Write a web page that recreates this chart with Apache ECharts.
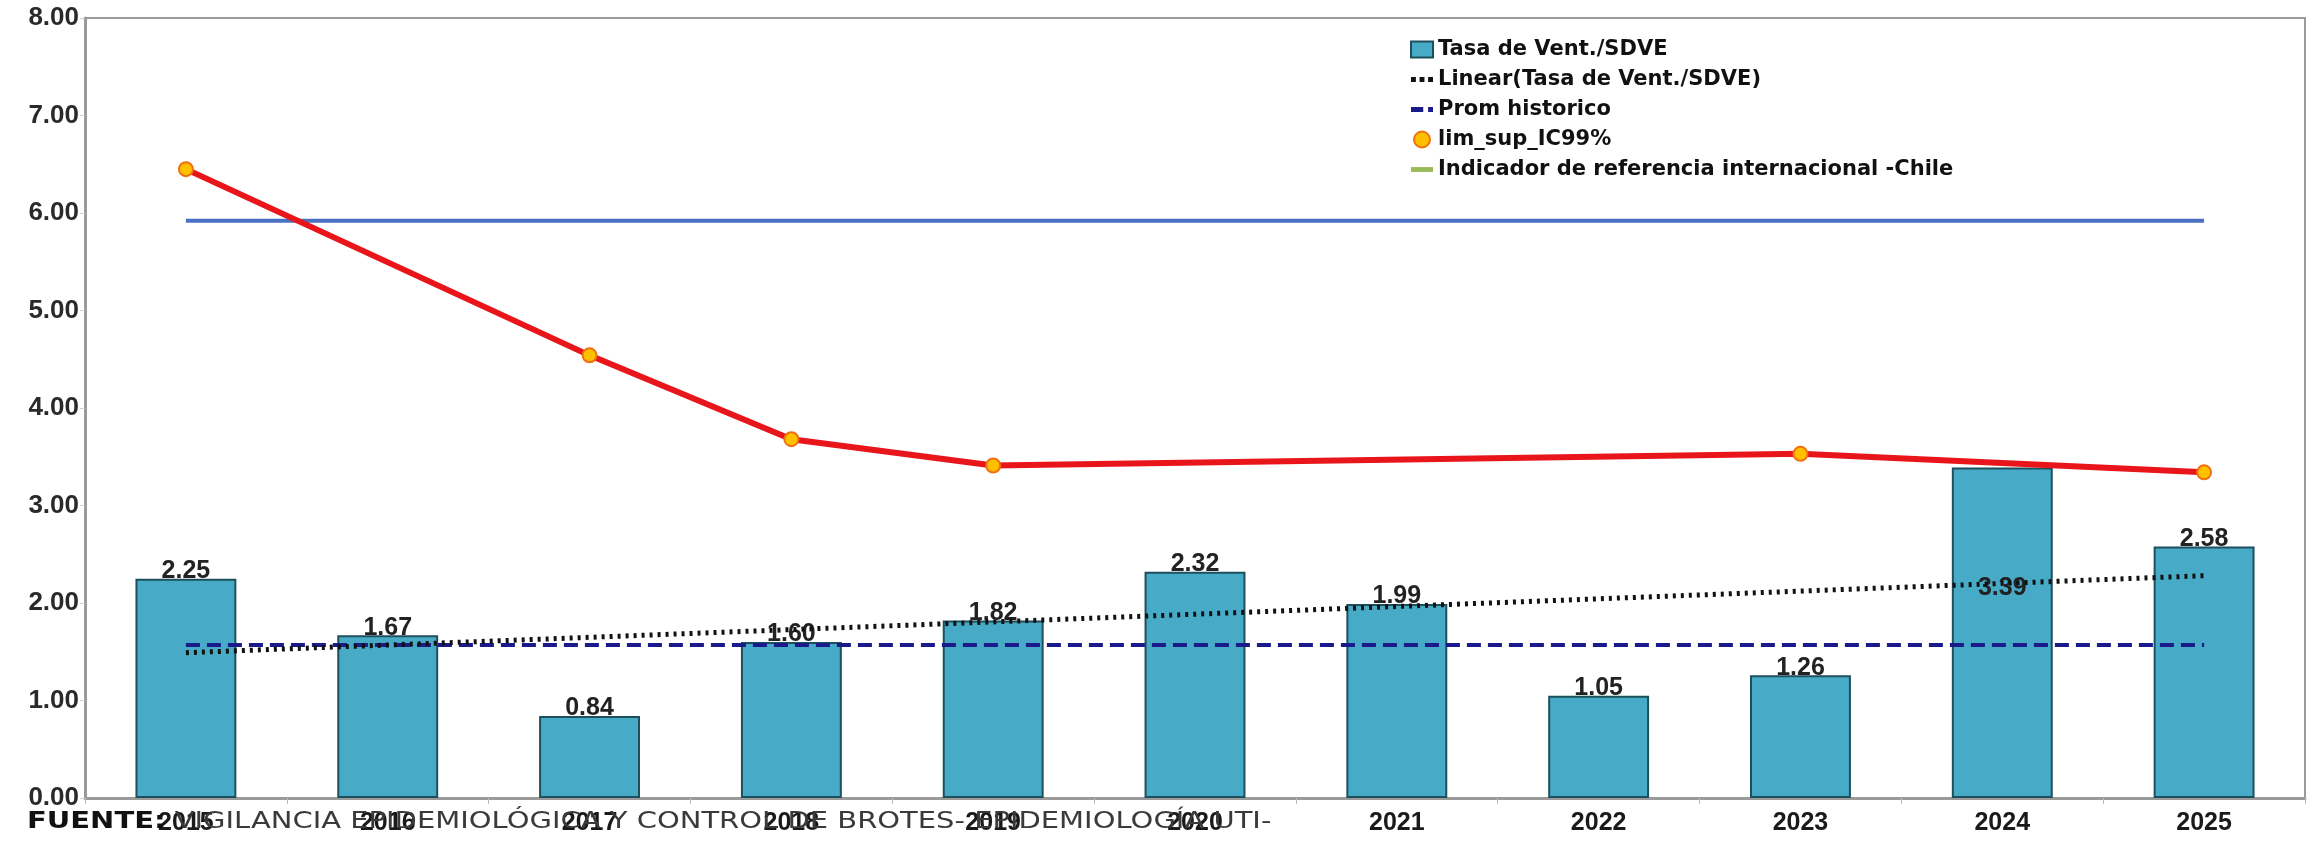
<!DOCTYPE html>
<html>
<head>
<meta charset="utf-8">
<script src="https://cdn.jsdelivr.net/npm/echarts@6/dist/echarts.min.js"></script>
<style>
	html, body { margin: 0; padding: 0; background: #fff; }
	#chart { width: 2315px; height: 842px; }
</style>
</head>
<body>
<div id="chart"></div>
<script>
	// años del eje x
	const years = ["2015", "2016", "2017", "2018", "2019", "2020", "2021", "2022", "2023", "2024", "2025"]

	// tasa de ventilacion / SDVE
	const tasaVent = [2.25, 1.67, 0.84, 1.60, 1.82, 2.32, 1.99, 1.05, 1.26, 3.39, 2.58]

	// tendencia lineal (solo extremos)
	const linearTasa = [1.49, null, null, null, null, null, null, null, null, null, 2.28]

	const promHistorico = [1.57, 1.57, 1.57, 1.57, 1.57, 1.57, 1.57, 1.57, 1.57, 1.57, 1.57]

	const limSup = [6.45, null, 4.54, 3.68, 3.41, null, null, null, 3.53, null, 3.34]

	const indicadorChile = [5.92, 5.92, 5.92, 5.92, 5.92, 5.92, 5.92, 5.92, 5.92, 5.92, 5.92]

	const yTicks = [0, 1, 2, 3, 4, 5, 6, 7, 8]

	const fuente = "VIGILANCIA EPIDEMIOLÓGICA Y CONTROL DE BROTES- EPIDEMIOLOGÍA UTI-"

	const font = "Liberation Sans, Arial, sans-serif"
	const wideFont = "DejaVu Sans"

	const chart = echarts.init(document.getElementById("chart"))

	chart.setOption({
		animation: false,
		backgroundColor: "#fff",
		textStyle: { fontFamily: font },
		// nota de fuente, algo estirada como en el original
		graphic: [
			{
				type: "text",
				x: 27,
				y: 822,
				scaleX: 1.26,
				z: 10,
				style: {
					text: "{b|FUENTE:} " + fuente,
					verticalAlign: "middle",
					fontSize: 23,
					fontFamily: wideFont,
					fill: "#3a3a3a",
					rich: {
						b: { fontSize: 23, fontFamily: wideFont, fontWeight: "bold", fill: "#111" }
					}
				}
			}
		],
		grid: {
			left: 85,
			right: 10,
			top: 18,
			bottom: 44,
			show: true,
			borderColor: "#9a9a9a",
			borderWidth: 2
		},
		legend: {
			orient: "vertical",
			left: 1405,
			top: 34,
			itemGap: 9,
			itemWidth: 22,
			itemHeight: 16,
			textStyle: { fontSize: 21, color: "#111", fontFamily: wideFont, fontWeight: "bold" },
			data: [
				{ name: "Tasa de Vent./SDVE", icon: "rect" },
				{ name: "Linear(Tasa de Vent./SDVE)", icon: "path://M0,0h4v4h-4z M7,0h4v4h-4z M14,0h4v4h-4z" },
				{ name: "Prom historico", icon: "path://M0,0h10v4h-10z M14,0h4v4h-4z" },
				{ name: "lim_sup_IC99%", icon: "circle" },
				{
					name: "Indicador de referencia internacional -Chile",
					icon: "path://M0,0h18v4h-18z",
					itemStyle: { color: "#9bbb59" }
				}
			]
		},
		xAxis: {
			type: "category",
			data: years,
			axisLine: { lineStyle: { color: "#9a9a9a", width: 3 } },
			axisTick: { show: true, length: 6, lineStyle: { color: "#bbb" } },
			axisLabel: { fontSize: 25, fontWeight: "bold", color: "#1a1a1a", margin: 13 }
		},
		yAxis: {
			type: "value",
			min: yTicks[0],
			max: yTicks[yTicks.length - 1],
			interval: 1,
			splitLine: { show: false },
			axisLine: { show: true, lineStyle: { color: "#9a9a9a", width: 3 } },
			axisTick: { show: true, length: 5, lineStyle: { color: "#ccc" } },
			axisLabel: {
				fontSize: 26,
				fontWeight: "bold",
				color: "#2a2a2a",
				margin: 6,
				formatter: (v) => v.toFixed(2)
			}
		},
		series: [
			{
				name: "Tasa de Vent./SDVE",
				type: "bar",
				barWidth: "50%",
				z: 2,
				data: tasaVent.map((v, i) =>
					i === 9 ? { value: v, label: { position: "insideTop", distance: 108 } } : v
				),
				itemStyle: {
					color: "#47aac6",
					borderColor: "#1d4f5c",
					borderWidth: 2
				},
				label: {
					show: true,
					position: "top",
					distance: -5,
					fontSize: 25,
					fontWeight: "bold",
					color: "#222",
					formatter: (p) => p.value.toFixed(2)
				}
			},
			{
				name: "Linear(Tasa de Vent./SDVE)",
				type: "line",
				data: linearTasa,
				connectNulls: true,
				symbol: "none",
				z: 4,
				itemStyle: { color: "#111" },
				lineStyle: { color: "#111", width: 5, type: [3, 5] }
			},
			{
				name: "Prom historico",
				type: "line",
				data: promHistorico,
				symbol: "none",
				z: 3,
				itemStyle: { color: "#1a1a8a" },
				lineStyle: { color: "#1a1a8a", width: 4, type: [14, 7] }
			},
			{
				name: "lim_sup_IC99%",
				type: "line",
				data: limSup,
				connectNulls: true,
				symbol: "circle",
				symbolSize: 14,
				z: 5,
				itemStyle: { color: "#ffc000", borderColor: "#f07010", borderWidth: 2 },
				lineStyle: { color: "#e8161b", width: 6 }
			},
			{
				name: "Indicador de referencia internacional -Chile",
				type: "line",
				data: indicadorChile,
				symbol: "none",
				z: 3,
				itemStyle: { color: "#4a72c2" },
				lineStyle: { color: "#4a72c2", width: 4 }
			}
		]
	})
</script>
</body>
</html>
